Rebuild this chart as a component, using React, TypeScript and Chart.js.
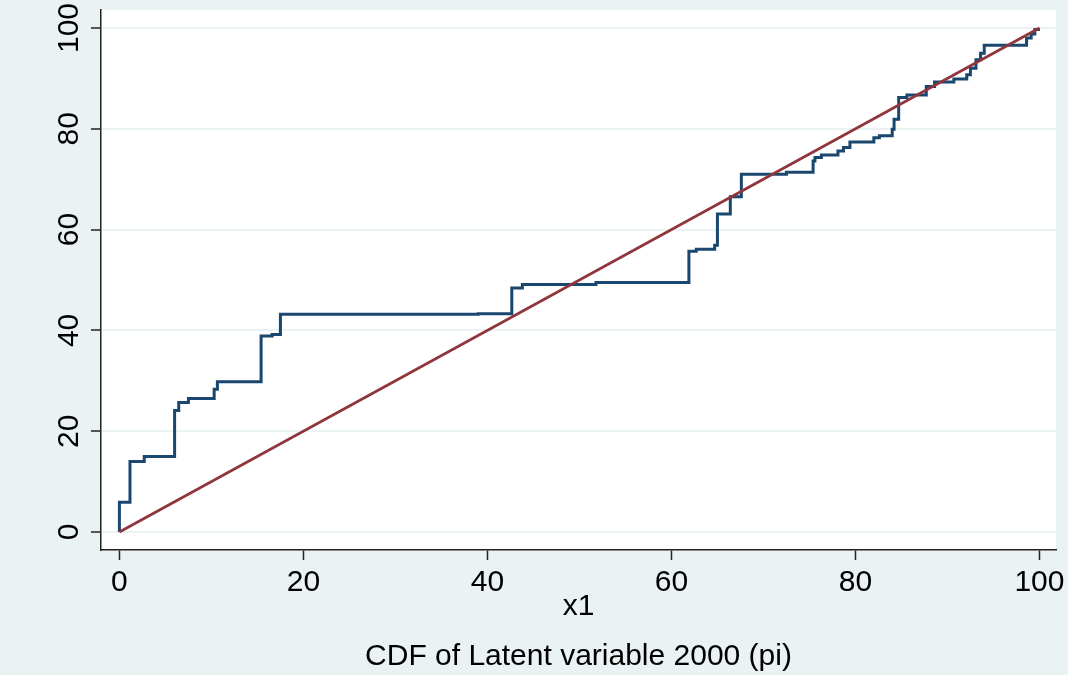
import React, { useEffect, useRef } from "react";
import { Chart, registerables } from "chart.js";

Chart.register(...registerables);

// Empirical CDF step points: (x where the step occurs, new level)
const cdfX = [0, 0, 1.15, 2.7, 6.0, 6.45, 7.5, 10.3, 10.65, 15.4, 16.6, 17.5, 39.0, 42.65, 43.8, 51.8, 61.9, 62.7, 64.7, 65.0, 66.4, 67.6, 72.5, 75.4, 75.6, 76.3, 78.1, 78.7, 79.4, 82.0, 82.6, 84.0, 84.2, 84.7, 85.6, 87.7, 88.6, 90.7, 92.1, 92.5, 93.1, 93.6, 94.0, 98.6, 99.1, 99.5, 99.9];
const cdfY = [0, 5.9, 14.0, 15.0, 24.1, 25.7, 26.5, 28.3, 29.8, 38.9, 39.2, 43.2, 43.3, 48.4, 49.1, 49.5, 55.7, 56.1, 56.9, 63.1, 66.5, 71.0, 71.4, 73.6, 74.3, 74.8, 75.6, 76.3, 77.4, 78.2, 78.6, 79.9, 81.9, 86.2, 86.7, 88.4, 89.3, 89.9, 90.7, 92.0, 93.7, 95.0, 96.6, 98.0, 98.8, 99.7, 100];

// 45-degree reference line
const refX = [0, 100];
const refY = [0, 100];

const xTicks = [0, 20, 40, 60, 80, 100];
const yTicks = [0, 20, 40, 60, 80, 100];

const xTitle = "x1";
const captionText = "CDF of Latent variable 2000 (pi)";

const FONT = "'Liberation Sans', Arial, sans-serif";
const FS = 30;
const BG = "#EAF2F3";
const NAVY = "#1A476F";
const MAROON = "#90353B";
const AXIS = "#222222";

export default function App() {
  const ref = useRef<HTMLCanvasElement | null>(null);

  useEffect(() => {
    const canvas = ref.current;
    if (!canvas) return;

    const bgPlugin = {
      id: "bgPlugin",
      beforeDraw(chart: any) {
        const { ctx, chartArea } = chart;
        ctx.save();
        ctx.fillStyle = BG;
        ctx.fillRect(0, 0, chart.width, chart.height);
        ctx.fillStyle = "#FFFFFF";
        ctx.fillRect(chartArea.left, chartArea.top, chartArea.right - chartArea.left, chartArea.bottom - chartArea.top);
        ctx.restore();
      },
    };

    const tickLabelPlugin = {
      id: "tickLabelPlugin",
      afterDraw(chart: any) {
        const { ctx } = chart;
        const ys = chart.scales.y;
        const xs = chart.scales.x;
        ctx.save();
        ctx.fillStyle = "#000";
        ctx.font = `${FS}px ${FONT}`;
        ctx.textAlign = "center";
        ctx.textBaseline = "middle";
        for (const v of yTicks) {
          const py = ys.getPixelForValue(v);
          ctx.save();
          ctx.translate(70, py);
          ctx.rotate(-Math.PI / 2);
          ctx.fillText(String(v), 0, 0);
          ctx.restore();
        }
        for (const v of xTicks) {
          const px = xs.getPixelForValue(v);
          ctx.fillText(String(v), px, 583);
        }
        ctx.restore();
      },
    };

    const chart = new Chart(canvas, {
      type: "line",
      data: {
        datasets: [
          {
            label: "reference",
            data: refX.map((x, i) => ({ x, y: refY[i] })),
            borderColor: MAROON,
            borderWidth: 2.6,
            pointRadius: 0,
            fill: false,
            order: 0,
          },
          {
            label: "cdf",
            data: cdfX.map((x, i) => ({ x, y: cdfY[i] })),
            borderColor: NAVY,
            borderWidth: 3,
            pointRadius: 0,
            stepped: "before",
            fill: false,
            order: 1,
          },
        ],
      },
      options: {
        responsive: false,
        animation: false,
        devicePixelRatio: 1,
        layout: { padding: { left: 0, top: 10, right: 12, bottom: 0 } },
        plugins: {
          legend: { display: false },
          tooltip: { enabled: false },
          title: {
            display: true,
            position: "bottom",
            fullSize: false,
            text: captionText,
            color: "#000",
            font: { family: FONT, size: FS, weight: "normal", lineHeight: 1.2 },
            padding: { top: 0, bottom: 0 },
          },
        },
        scales: {
          x: {
            type: "linear",
            min: -2,
            max: 101.8,
            afterBuildTicks: (scale: any) => {
              scale.ticks = xTicks.map((v) => ({ value: v }));
            },
            afterFit: (scale: any) => {
              scale.height = 125 - 36;
            },
            grid: {
              display: true,
              drawOnChartArea: false,
              drawTicks: true,
              tickLength: 10,
              tickWidth: 1.5,
              tickColor: AXIS,
            },
            border: { display: true, color: AXIS, width: 1.5 },
            ticks: {
              display: false,
            },
            title: {
              display: true,
              text: xTitle,
              color: "#000",
              font: { family: FONT, size: FS, lineHeight: 1.2 },
              padding: { top: 14, bottom: 14 },
            },
          },
          y: {
            type: "linear",
            min: -3.57,
            max: 103.57,
            afterBuildTicks: (scale: any) => {
              scale.ticks = yTicks.map((v) => ({ value: v }));
            },
            afterFit: (scale: any) => {
              scale.width = 101;
            },
            grid: {
              display: true,
              drawOnChartArea: true,
              drawTicks: true,
              color: BG,
              lineWidth: 2,
              tickLength: 10,
              tickWidth: 1.5,
              tickColor: AXIS,
            },
            border: { display: true, color: AXIS, width: 1.5 },
            ticks: {
              display: false,
            },
          },
        },
      } as any,
      plugins: [bgPlugin, tickLabelPlugin],
    });

    return () => chart.destroy();
  }, []);

  return (
    <div style={{ position: "fixed", left: 0, top: 0, width: 1068, height: 675, background: BG }}>
      <canvas ref={ref} width={1068} height={675} style={{ display: "block", width: 1068, height: 675 }} />
    </div>
  );
}
